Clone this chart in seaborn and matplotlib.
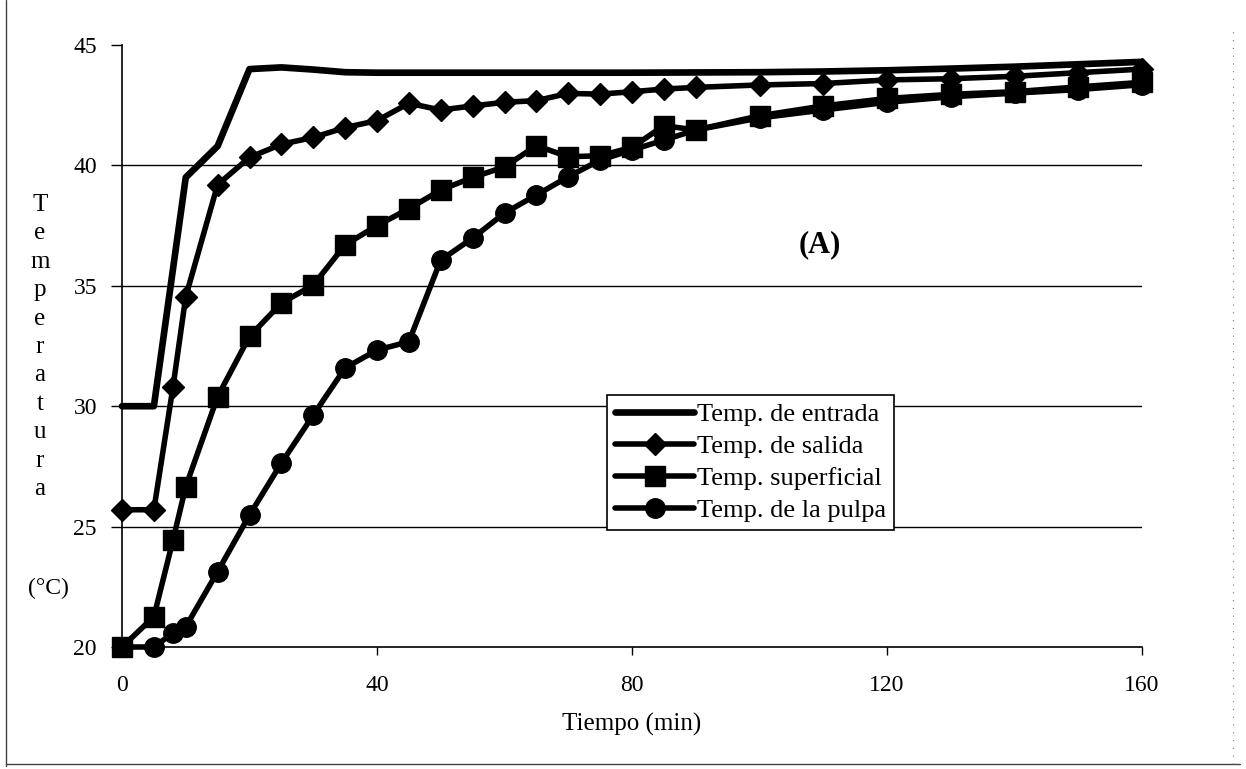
import matplotlib
matplotlib.use("Agg")
import matplotlib.pyplot as plt
import seaborn as sns
import pandas as pd
from matplotlib.lines import Line2D

# ---------------- data ----------------
time_entrada = [0, 5, 10, 15, 20, 25, 30, 35, 40, 50, 60, 70, 80, 90, 100, 110, 120, 130, 140, 150, 160]
temp_entrada = [30.0, 30.0, 39.5, 40.8, 44.0, 44.07, 43.98, 43.87, 43.85, 43.85, 43.85, 43.85, 43.85,
                43.86, 43.87, 43.9, 43.95, 44.02, 44.1, 44.2, 44.3]

time_points = [0, 5, 8, 10, 15, 20, 25, 30, 35, 40, 45, 50, 55, 60, 65, 70, 75, 80, 85, 90,
               100, 110, 120, 130, 140, 150, 160]
temp_salida = [25.7, 25.7, 30.8, 34.55, 39.2, 40.33, 40.88, 41.16, 41.57, 41.86, 42.58, 42.3, 42.47,
               42.62, 42.69, 42.99, 42.96, 43.06, 43.17, 43.24, 43.34, 43.4, 43.55, 43.6, 43.7, 43.85, 44.0]
temp_superficial = [20.0, 21.26, 24.44, 26.66, 30.4, 32.9, 34.28, 35.03, 36.7, 37.5, 38.2, 38.98, 39.5,
                    39.94, 40.82, 40.36, 40.4, 40.75, 41.65, 41.47, 42.06, 42.47, 42.78, 42.95, 43.06,
                    43.26, 43.45]
temp_pulpa = [20.0, 20.0, 20.58, 20.84, 23.13, 25.48, 27.64, 29.63, 31.59, 32.33, 32.68, 36.07, 36.98,
              38.02, 38.77, 39.53, 40.22, 40.64, 41.05, 41.47, 41.97, 42.3, 42.62, 42.85, 43.0, 43.15, 43.35]

series_labels = ["Temp. de entrada", "Temp. de salida", "Temp. superficial", "Temp. de la pulpa"]
x_ticks = [0, 40, 80, 120, 160]
y_ticks = [20, 25, 30, 35, 40, 45]
x_label = "Tiempo (min)"
y_label_letters = "Temperatura"
y_unit = "(°C)"
panel_tag = "(A)"

# ---------------- style ----------------
sns.set_style("white")
plt.rcParams["font.family"] = ["Liberation Serif", "DejaVu Serif"]
plt.rcParams["text.color"] = "black"
plt.rcParams["axes.labelcolor"] = "black"
plt.rcParams["xtick.color"] = "black"
plt.rcParams["ytick.color"] = "black"

fig = plt.figure(figsize=(12.46, 7.69), dpi=100)
ax = fig.add_axes([122 / 1246, 1 - 647 / 769, 1020 / 1246, 602 / 769])

common = dict(color="black", ax=ax, clip_on=False, zorder=3)
sns.lineplot(x=time_entrada, y=temp_entrada, lw=4.8, label=series_labels[0], **common)
sns.lineplot(x=time_points, y=temp_salida, lw=4.0, marker="D", markersize=11,
             markeredgecolor="black", markeredgewidth=1, label=series_labels[1], **common)
sns.lineplot(x=time_points, y=temp_superficial, lw=4.0, marker="s", markersize=15,
             markeredgecolor="black", markeredgewidth=1, label=series_labels[2], **common)
sns.lineplot(x=time_points, y=temp_pulpa, lw=4.0, marker="o", markersize=14,
             markeredgecolor="black", markeredgewidth=1, label=series_labels[3], **common)

ax.set_xlim(0, 160)
ax.set_ylim(20, 45)
ax.set_xticks(x_ticks)
ax.set_yticks(y_ticks)
ax.tick_params(axis="y", direction="out", length=8, width=1, pad=10, labelsize=17, left=True)
ax.tick_params(axis="x", direction="out", length=6, width=1, pad=14, labelsize=17, bottom=True)

ax.grid(axis="y", color="black", lw=1)
ax.grid(axis="x", visible=False)
for gl, v in zip(ax.get_ygridlines(), y_ticks):
    if v in (20, 45):
        gl.set_visible(False)

for side in ["top", "right"]:
    ax.spines[side].set_visible(False)
for side in ["left", "bottom"]:
    ax.spines[side].set_color("black")
    ax.spines[side].set_linewidth(1.2)

ax.set_xlabel(x_label, fontsize=18, labelpad=12)
ax.set_ylabel("")

fig.text(40 / 1246, 1 - 347 / 769, "\n".join(y_label_letters), ha="center", va="center",
         fontsize=18, linespacing=1.38)
fig.text(48 / 1246, 1 - 588 / 769, y_unit, ha="center", va="center", fontsize=17)

ax.text(0.684, 0.668, panel_tag, transform=ax.transAxes, ha="center", va="center",
        fontsize=22, fontweight="bold")

leg = ax.legend(loc="upper left", bbox_to_anchor=(0.4755, 0.4186), frameon=True, fancybox=False,
                edgecolor="black", framealpha=1, fontsize=19, handlelength=3.0, handletextpad=0.12,
                labelspacing=0.32, borderpad=0.3, borderaxespad=0)
leg.get_frame().set_linewidth(1.2)
leg.set_zorder(5)

# outer scanned frame
fig.add_artist(Line2D([6 / 1246, 6 / 1246], [0.004, 1.0], transform=fig.transFigure, color="#444", lw=1))
fig.add_artist(Line2D([6 / 1246, 1240 / 1246], [0.006, 0.006], transform=fig.transFigure, color="#444", lw=1))
fig.add_artist(Line2D([1233 / 1246, 1233 / 1246], [0.006, 0.96], transform=fig.transFigure, color="#777",
                      lw=0.8, ls=(0, (1, 6))))

fig.savefig("out.png", dpi=100)
